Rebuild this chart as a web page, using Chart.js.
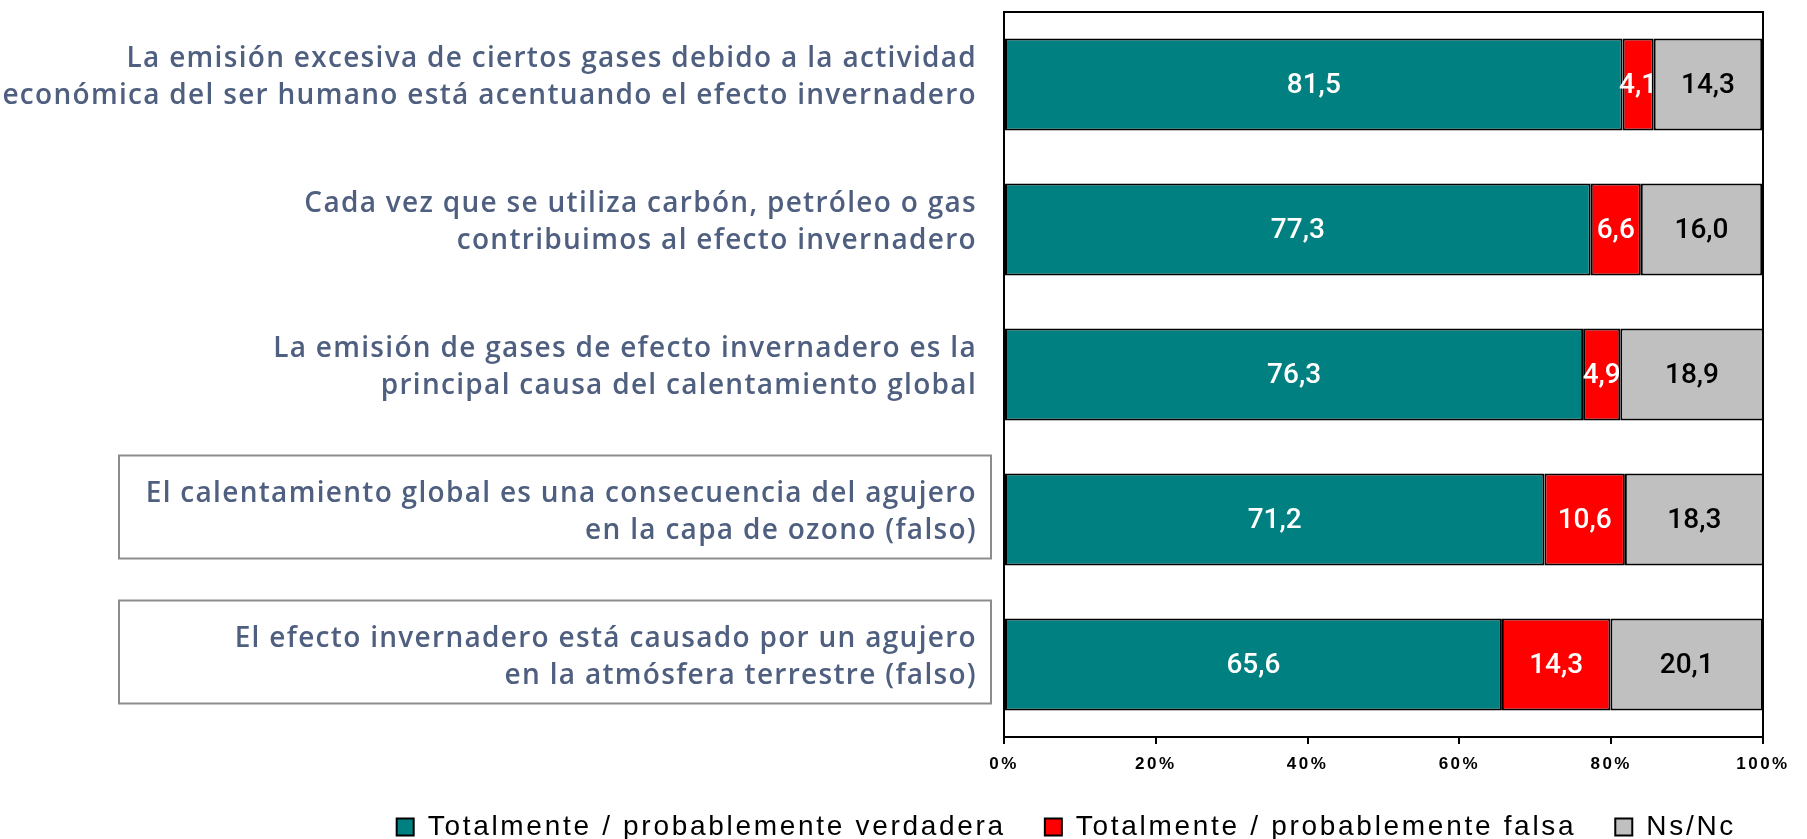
<!DOCTYPE html>
<html>
<head>
<meta charset="utf-8">
<script src="https://cdn.jsdelivr.net/npm/chart.js@4"></script>
<style>
    html, body { margin: 0; padding: 0; background: #fff; }
    #wrap { width: 1807px; height: 839px; }
</style>
</head>
<body>
<div id="wrap"><canvas id="chart" width="1807" height="839"></canvas></div>
<script>
// categories (two lines each)
const statements = [
    ['La emisión excesiva de ciertos gases debido a la actividad', 'económica del ser humano está acentuando el efecto invernadero'],
    ['Cada vez que se utiliza carbón, petróleo o gas', 'contribuimos al efecto invernadero'],
    ['La emisión de gases de efecto invernadero es la', 'principal causa del calentamiento global'],
    ['El calentamiento global es una consecuencia del agujero', 'en la capa de ozono (falso)'],
    ['El efecto invernadero está causado por un agujero', 'en la atmósfera terrestre (falso)'],
];
const verdadera = [81.5, 77.3, 76.3, 71.2, 65.6];
const falsa = [4.1, 6.6, 4.9, 10.6, 14.3];
const nsnc = [14.3, 16.0, 18.9, 18.3, 20.1];
const boxedRows = [3, 4];
const xTicks = [0, 20, 40, 60, 80, 100];

// canvas letter spacing around a method of a chart box
function withSpacing(obj, method, spacing) {
    if (!obj || obj['_sp_' + method]) return;
    const orig = obj[method];
    obj[method] = function (...args) {
        const ctx = this.ctx;
        const prev = ctx.letterSpacing;
        ctx.letterSpacing = spacing;
        const r = orig.apply(this, args);
        ctx.letterSpacing = prev;
        return r;
    };
    obj['_sp_' + method] = true;
}

const spacing = {
    id: 'spacing',
    beforeLayout(chart) {
        withSpacing(chart.legend, 'fit', '2.7px');
        withSpacing(chart.legend, 'draw', '2.7px');
    },
    afterLayout(chart) {
        withSpacing(chart.scales.x, 'drawLabels', '2.5px');
        withSpacing(chart.scales.y, 'drawLabels', '1.3px');
    }
};

// values written inside the bars
const barLabels = {
    id: 'barLabels',
    afterDatasetsDraw(chart) {
        const ctx = chart.ctx;
        ctx.save();
        ctx.font = '500 28px Roboto';
        ctx.textAlign = 'center';
        ctx.textBaseline = 'middle';
        chart.data.datasets.forEach((ds, di) => {
            const meta = chart.getDatasetMeta(di);
            ctx.fillStyle = di === 2 ? '#000' : '#fff';
            meta.data.forEach((bar, i) => {
                const txt = ds.data[i].toFixed(1).replace('.', ',');
                ctx.fillText(txt, (bar.x + bar.base) / 2, bar.y + 1);
            });
        });
        ctx.restore();
    }
};

// frame around plot + boxes around the "falso" statements
const frame = {
    id: 'frame',
    afterDraw(chart) {
        const ctx = chart.ctx;
        const a = chart.chartArea;
        ctx.save();
        ctx.strokeStyle = '#000';
        ctx.lineWidth = 2;
        ctx.strokeRect(a.left, a.top, a.right - a.left, a.bottom - a.top);
        ctx.strokeStyle = '#8c8c8c';
        boxedRows.forEach(i => {
            const yc = chart.scales.y.getPixelForValue(i);
            ctx.strokeRect(119, yc - 64, 872, 103);
        });
        ctx.restore();
    }
};

new Chart(document.getElementById('chart'), {
    type: 'bar',
    data: {
        labels: statements,
        datasets: [
            { label: 'Totalmente / probablemente verdadera', data: verdadera, backgroundColor: '#008080' },
            { label: 'Totalmente / probablemente falsa', data: falsa, backgroundColor: '#ff0000' },
            { label: 'Ns/Nc', data: nsnc, backgroundColor: '#c0c0c0' },
        ].map(d => Object.assign(d, {
            borderColor: '#000',
            borderWidth: 2,
            borderSkipped: false,
            categoryPercentage: 1,
            barPercentage: 0.635,
        }))
    },
    options: {
        indexAxis: 'y',
        responsive: false,
        animation: false,
        layout: { padding: { left: 0, right: 32, top: 12, bottom: -12 } },
        plugins: {
            legend: {
                position: 'bottom',
                align: 'end',
                labels: {
                    boxWidth: 17,
                    boxHeight: 17,
                    padding: 39,
                    color: '#000',
                    font: { family: '"Liberation Sans"', size: 28 }
                }
            },
            tooltip: { enabled: false }
        },
        scales: {
            x: {
                stacked: true,
                min: 0,
                max: 100,
                afterBuildTicks: (scale) => { scale.ticks = xTicks.map(v => ({ value: v })); },
                afterFit: (scale) => { scale.height = 37; },
                ticks: {
                    padding: 10,
                    color: '#000',
                    font: { family: '"Liberation Sans"', size: 17, weight: 'bold' },
                    callback: (v) => v + '%'
                },
                grid: { drawOnChartArea: false, drawTicks: true, tickLength: 7, color: '#000', lineWidth: 2 },
                border: { display: true, color: '#000', width: 2 }
            },
            y: {
                stacked: true,
                afterFit: (scale) => {
                    scale.width = 1004;
                    scale.paddingTop = 0;
                    scale.paddingBottom = 0;
                },
                ticks: {
                    padding: 19,
                    labelOffset: -7,
                    color: '#4f5f7f',
                    font: { family: '"Open Sans"', size: 28, weight: '600', lineHeight: 1.29 }
                },
                grid: { display: false },
                border: { display: true, color: '#000', width: 2 }
            },
            // empty strip right of the plot so the legend ends under "100%"
            yRight: {
                type: 'category',
                position: 'right',
                afterFit: (scale) => { scale.width = 12; },
                ticks: { display: false },
                grid: { display: false },
                border: { display: false }
            }
        }
    },
    plugins: [spacing, barLabels, frame]
});
</script>
</body>
</html>
